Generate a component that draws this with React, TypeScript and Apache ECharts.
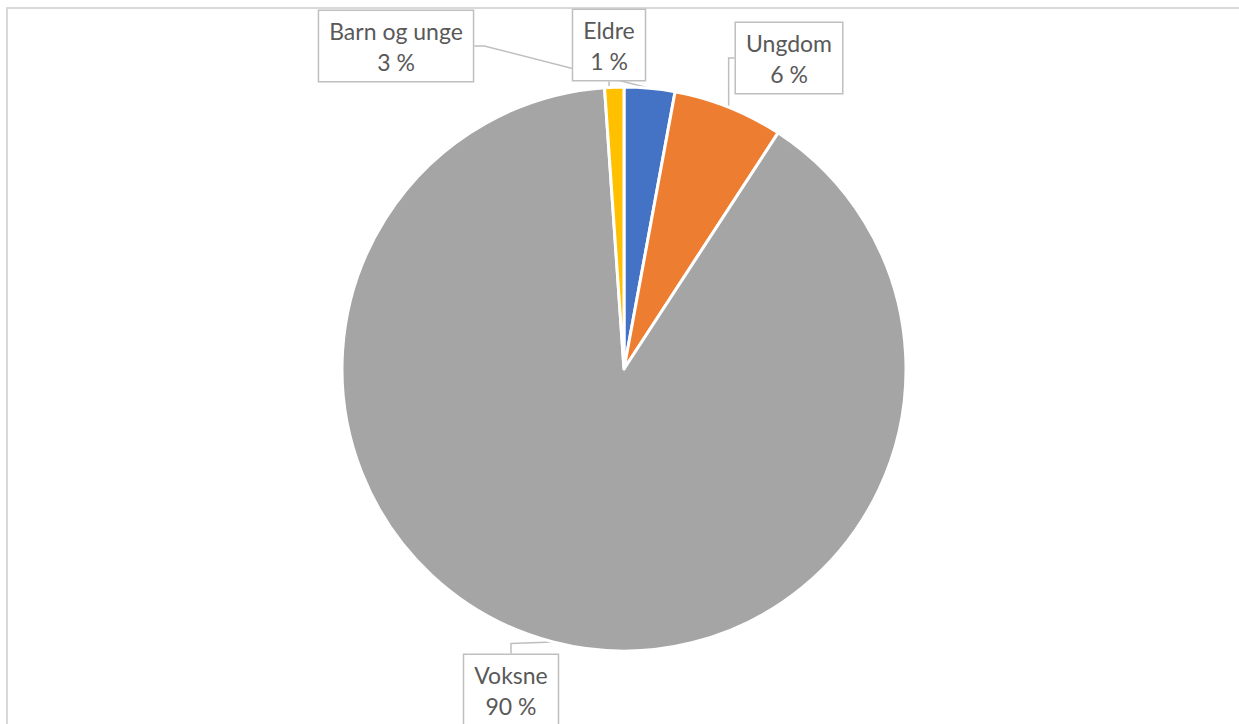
import React, { useEffect, useRef } from "react";
import * as echarts from "echarts";

const categories = ["Barn og unge", "Ungdom", "Voksne", "Eldre"];
const values = [2.9, 6.3, 89.7, 1.1];
const colors = ["#4472C4", "#ED7D31", "#A5A5A5", "#FFC000"];

// label box centres (layout only)
const labelCenters: [number, number][] = [
  [396, 46],
  [789, 58],
  [511, 690],
  [609, 45],
];

export default function App() {
  const ref = useRef<HTMLDivElement>(null);
  useEffect(() => {
    if (!ref.current) return;
    const chart = echarts.init(ref.current, undefined, { renderer: "svg" });
    chart.setOption({
      animation: false,
      backgroundColor: "#ffffff",
      graphic: [
        {
          type: "rect",
          shape: { x: 7, y: 8, width: 1250, height: 740 },
          style: { fill: "none", stroke: "#d9d9d9", lineWidth: 2 },
          silent: true,
          z: -1,
        },
      ],
      series: [
        {
          type: "pie",
          center: [624, 369],
          radius: 282,
          startAngle: 90,
          clockwise: true,
          data: categories.map((c, i) => ({
            name: c,
            value: values[i],
            itemStyle: { color: colors[i] },
          })),
          itemStyle: { borderColor: "#ffffff", borderWidth: 3 },
          label: {
            show: true,
            formatter: (p: any) => `${p.name}\n${Math.round(p.percent)} %`,
            fontFamily: "Lato, 'Open Sans', sans-serif",
            fontSize: 23,
            lineHeight: 31,
            color: "#595959",
            backgroundColor: "#ffffff",
            borderColor: "#bfbfbf",
            borderWidth: 1.5,
            padding: [4, 10, 4, 10],
            align: "center",
          },
          labelLine: {
            show: true,
            length: 10,
            length2: 10,
            lineStyle: { color: "#bfbfbf", width: 1.5 },
          },
          labelLayout: (params: any) => {
            const c = labelCenters[params.dataIndex];
            return {
              x: c[0],
              y: c[1],
              align: "center",
              verticalAlign: "middle",
            };
          },
          emphasis: { disabled: true },
        },
      ],
    });
    return () => chart.dispose();
  }, []);
  return (
    <div
      ref={ref}
      style={{ position: "fixed", left: 0, top: 0, width: 1239, height: 724 }}
    />
  );
}
